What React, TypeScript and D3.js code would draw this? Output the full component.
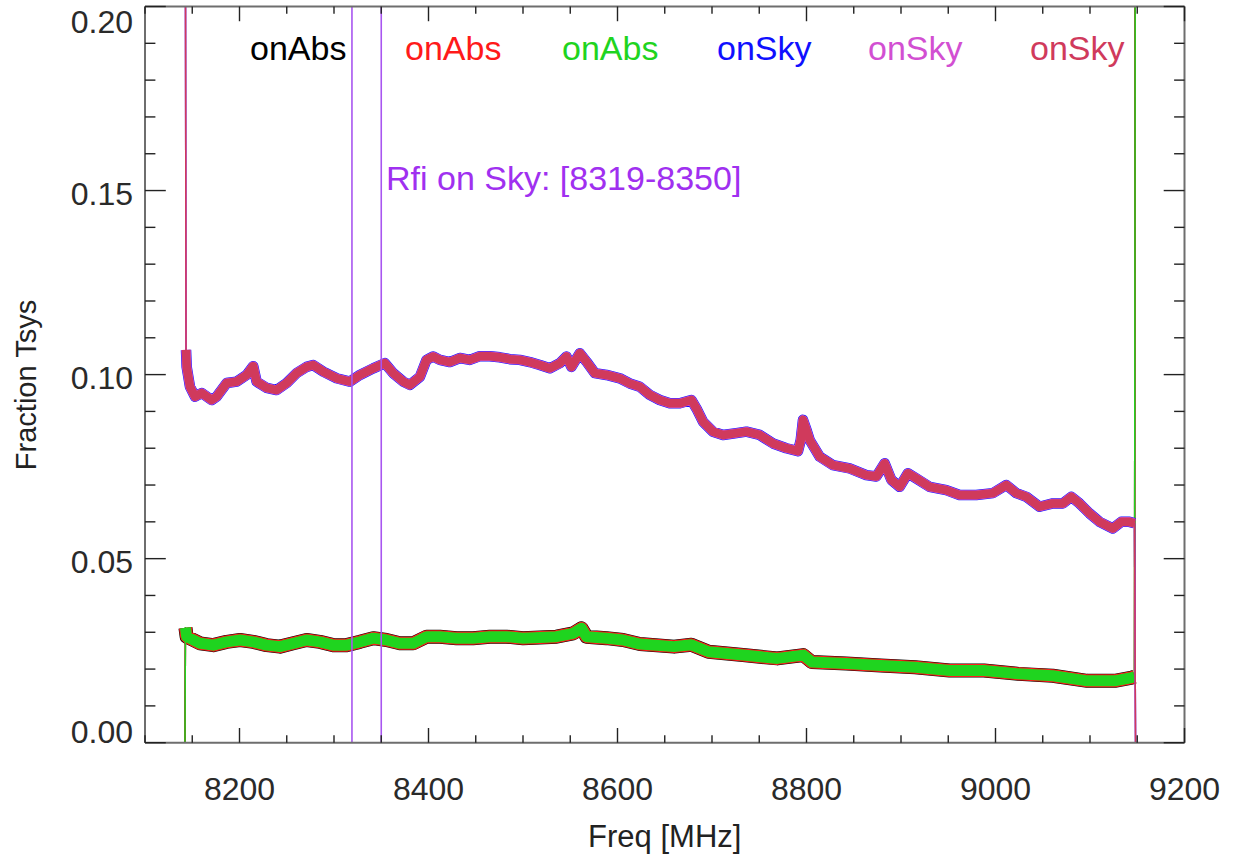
import React from "react";
import * as d3 from "d3";

// ---------- data ----------
const skyFreq = [
  8142.3, 8143.4, 8144.1, 8147.6, 8152.9, 8160.0, 8170.5, 8175.8, 8186.4, 8197.0,
  8207.6, 8214.5, 8218.1, 8228.7, 8239.3, 8249.9, 8260.4, 8271.0, 8278.0, 8288.6,
  8302.8, 8316.8, 8327.4, 8341.5, 8353.8, 8362.6, 8373.2, 8380.3, 8390.9, 8397.9,
  8404.9, 8412.0, 8422.5, 8433.1, 8443.7, 8454.3, 8464.9, 8475.4, 8486.0, 8496.6,
  8507.2, 8517.8, 8528.4, 8538.9, 8546.0, 8551.3, 8560.1, 8567.2, 8576.0, 8588.3,
  8602.4, 8613.0, 8623.6, 8634.1, 8644.7, 8655.3, 8665.9, 8678.2, 8683.5, 8690.5,
  8701.1, 8711.7, 8725.8, 8736.4, 8750.5, 8764.6, 8778.7, 8791.0, 8793.9, 8796.3,
  8799.9, 8803.4, 8814.0, 8828.0, 8845.7, 8863.3, 8873.9, 8882.7, 8889.8, 8898.6,
  8907.3, 8916.2, 8930.3, 8948.0, 8962.0, 8979.7, 8997.2, 9011.4, 9022.0, 9032.6,
  9046.6, 9060.7, 9071.3, 9080.2, 9088.9, 9099.5, 9110.1, 9124.2, 9133.1, 9141.8,
  9147.1, 9148.2,
];
const skyValues = [
  0.3, 0.1067, 0.1021, 0.0967, 0.094, 0.095, 0.0931, 0.094, 0.0977, 0.0981,
  0.0999, 0.1023, 0.0981, 0.0964, 0.0958, 0.0977, 0.1004, 0.1021, 0.1026, 0.1008,
  0.099, 0.0981, 0.0999, 0.1017, 0.1031, 0.1004, 0.0981, 0.0972, 0.0994, 0.104,
  0.1049, 0.104, 0.1034, 0.1045, 0.104, 0.105, 0.105, 0.1047, 0.1042, 0.104,
  0.1034, 0.1026, 0.1017, 0.1031, 0.1049, 0.1021, 0.1058, 0.1035, 0.1004, 0.0999,
  0.099, 0.0976, 0.0967, 0.0945, 0.0931, 0.0922, 0.0922, 0.0931, 0.0908, 0.0872,
  0.0845, 0.0836, 0.0841, 0.0845, 0.0836, 0.0813, 0.08, 0.0792, 0.0822, 0.0877,
  0.085, 0.0822, 0.0777, 0.0754, 0.0745, 0.0727, 0.0723, 0.0759, 0.0714, 0.0695,
  0.0732, 0.0718, 0.0695, 0.0686, 0.0673, 0.0673, 0.0678, 0.07, 0.0678, 0.0668,
  0.0641, 0.065, 0.065, 0.0668, 0.065, 0.0623, 0.06, 0.0582, 0.06, 0.06,
  0.0596, 0.0,
];

const absFreq = [
  8142.3, 8142.8, 8144.1, 8158.2, 8172.2, 8186.4, 8200.5, 8214.5, 8228.7, 8242.8,
  8256.9, 8271.0, 8285.1, 8299.2, 8313.3, 8327.4, 8341.5, 8355.6, 8369.7, 8383.8,
  8398.0, 8412.0, 8429.7, 8447.2, 8464.9, 8482.6, 8500.1, 8517.8, 8535.5, 8553.0,
  8561.9, 8567.2, 8588.3, 8605.9, 8623.6, 8659.9, 8678.2, 8696.4, 8732.8, 8769.2,
  8796.6, 8805.7, 8842.1, 8878.5, 8914.9, 8951.4, 8987.8, 9024.2, 9060.6, 9097.1,
  9126.2, 9144.4, 9147.1, 9148.2,
];
const absValues = [
  0.0, 0.0312, 0.0288, 0.027, 0.0265, 0.0274, 0.0279, 0.0274, 0.0265, 0.0261,
  0.027, 0.0279, 0.0274, 0.0265, 0.0265, 0.0274, 0.0284, 0.0279, 0.027, 0.027,
  0.0288, 0.0288, 0.0284, 0.0284, 0.0288, 0.0288, 0.0284, 0.0286, 0.0288, 0.0297,
  0.0311, 0.0288, 0.0284, 0.0279, 0.0268, 0.0261, 0.0266, 0.0247, 0.0238, 0.0229,
  0.0238, 0.0219, 0.0215, 0.021, 0.0205, 0.0196, 0.0196, 0.0187, 0.0182, 0.0168,
  0.0168, 0.0177, 0.0179, 0.3,
];

const seriesNames = ["onAbs", "onAbs", "onAbs", "onSky", "onSky", "onSky"];
const seriesColors = ["#000000", "#ff1a1a", "#1fd41f", "#1010ff", "#d24fd2", "#d03a5c"];
const rfiRange = [8319, 8350];
const rfiLabel = "Rfi on Sky: [8319-8350]";

const xMajorTicks = [8200, 8400, 8600, 8800, 9000, 9200];
const yMajorTicks = [0.0, 0.05, 0.1, 0.15, 0.2];
const xTitle = "Freq [MHz]";
const yTitle = "Fraction Tsys";

// ---------- layout ----------
const W = 1239;
const H = 861;
const L = 145;
const R = 1184.5;
const T = 6.5;
const B = 742.7;
const FONT = "'Liberation Sans', Arial, Helvetica, sans-serif";

export default function App() {
  const x = d3.scaleLinear().domain([8100, 9200]).range([L, R]);
  const y = d3.scaleLinear().domain([0, 0.2]).range([B, T]);

  const xMinor = d3.range(8100, 9200.1, 50).filter((v) => !xMajorTicks.includes(v));
  const yMinor = d3.range(0, 0.2001, 0.01).filter(
    (v) => !yMajorTicks.some((m) => Math.abs(m - v) < 1e-6)
  );

  const skyPts: [number, number][] = skyFreq.map((f, i) => [f, skyValues[i]]);
  const absPts: [number, number][] = absFreq.map((f, i) => [f, absValues[i]]);
  const line = d3
    .line<[number, number]>()
    .x((d) => x(d[0]))
    .y((d) => y(d[1]));

  const skyBody = skyPts.slice(1, -1);
  const absBody = absPts.slice(1, -1);

  const absWidths = [14, 13, 11];
  const skyWidths = [10.5, 9.5, 8.5];

  const xMajLen = 0.02 * (B - T);
  const yMajLen = 0.02 * (R - L);

  const legendX = [250, 405, 562, 717, 868, 1030];

  return (
    <svg width={W} height={H} style={{ display: "block", position: "absolute", left: 0, top: 0 }}>
      <rect x={0} y={0} width={W} height={H} fill="#ffffff" />
      <defs>
        <clipPath id="plot">
          <rect x={L} y={T} width={R - L} height={B - T} />
        </clipPath>
      </defs>

      <g clipPath="url(#plot)" fill="none" strokeLinejoin="round" strokeLinecap="butt">
        {/* onAbs series: full thin trace + noisy band */}
        {[0, 1, 2].map((i) => (
          <g key={"abs" + i}>
            <path d={line(absPts) || ""} stroke={seriesColors[i]} strokeWidth={1.5} />
            <path d={line(absBody) || ""} stroke={seriesColors[i]} strokeWidth={absWidths[i]} />
          </g>
        ))}
        {/* onSky series */}
        {[3, 4, 5].map((i, k) => (
          <g key={"sky" + i}>
            <path d={line(skyPts) || ""} stroke={seriesColors[i]} strokeWidth={1.5} />
            <path d={line(skyBody) || ""} stroke={seriesColors[i]} strokeWidth={skyWidths[k]} />
          </g>
        ))}
        {/* RFI markers */}
        {rfiRange.map((f) => (
          <line key={f} x1={x(f)} x2={x(f)} y1={T} y2={B} stroke="#a855f0" strokeWidth={1.6} />
        ))}
      </g>

      {/* frame */}
      <g stroke="#6e6e6e" strokeWidth={2} fill="none">
        <line x1={L} x2={R} y1={B} y2={B} />
        <line x1={L} x2={R} y1={T} y2={T} />
        <line x1={L} x2={L} y1={T} y2={B} />
        <line x1={R} x2={R} y1={T} y2={B} />
      </g>

      {/* ticks */}
      <g stroke="#222" strokeWidth={1.4}>
        {xMajorTicks.map((v) => (
          <g key={"xM" + v}>
            <line x1={x(v)} x2={x(v)} y1={B} y2={B - xMajLen} />
            <line x1={x(v)} x2={x(v)} y1={T} y2={T + xMajLen} />
          </g>
        ))}
        {xMinor.map((v) => (
          <g key={"xm" + v}>
            <line x1={x(v)} x2={x(v)} y1={B} y2={B - xMajLen / 2} />
            <line x1={x(v)} x2={x(v)} y1={T} y2={T + xMajLen / 2} />
          </g>
        ))}
        {yMajorTicks.map((v) => (
          <g key={"yM" + v}>
            <line x1={L} x2={L + yMajLen} y1={y(v)} y2={y(v)} />
            <line x1={R} x2={R - yMajLen} y1={y(v)} y2={y(v)} />
          </g>
        ))}
        {yMinor.map((v) => (
          <g key={"ym" + v}>
            <line x1={L} x2={L + yMajLen / 2} y1={y(v)} y2={y(v)} />
            <line x1={R} x2={R - yMajLen / 2} y1={y(v)} y2={y(v)} />
          </g>
        ))}
      </g>

      {/* tick labels */}
      <g fontFamily={FONT} fontSize={32} fill="#2a2a2a">
        {xMajorTicks.map((v) => (
          <text key={"xl" + v} x={x(v)} y={800} textAnchor="middle">
            {v}
          </text>
        ))}
        {yMajorTicks.map((v) => (
          <text
            key={"yl" + v}
            x={133}
            y={Math.max(33, Math.min(B, y(v) + 14.5))}
            textAnchor="end"
          >
            {v.toFixed(2)}
          </text>
        ))}
      </g>

      {/* axis titles */}
      <text x={(L + R) / 2} y={847} textAnchor="middle" fontFamily={FONT} fontSize={31} fill="#222">
        {xTitle}
      </text>
      <text
        transform={`translate(36,385) rotate(-90)`}
        textAnchor="middle"
        fontFamily={FONT}
        fontSize={29}
        fill="#222"
      >
        {yTitle}
      </text>

      {/* legend */}
      <g fontFamily={FONT} fontSize={34}>
        {seriesNames.map((n, i) => (
          <text key={"lg" + i} x={legendX[i]} y={60} fill={seriesColors[i]}>
            {n}
          </text>
        ))}
      </g>

      {/* RFI annotation */}
      <text x={386} y={190} fontFamily={FONT} fontSize={34} fill="#a030f0">
        {rfiLabel}
      </text>
    </svg>
  );
}
